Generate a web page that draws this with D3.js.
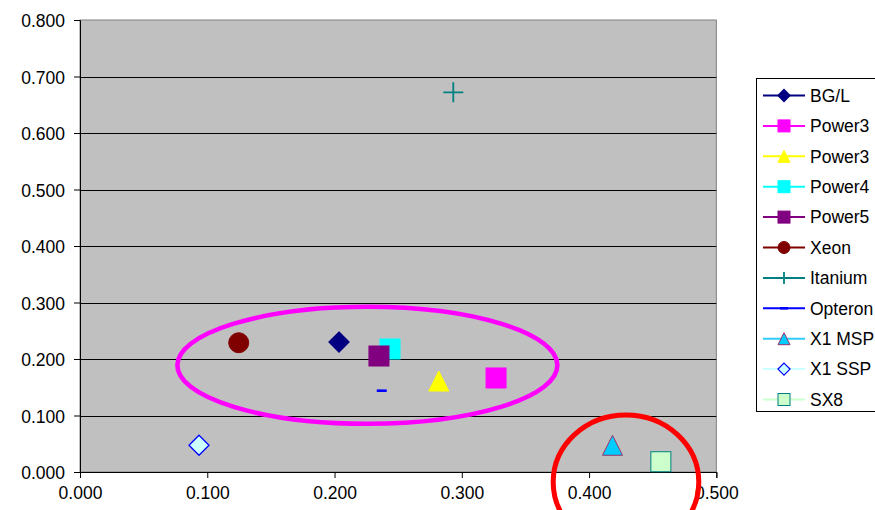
<!DOCTYPE html>
<html>
<head>
<meta charset="utf-8">
<script src="https://cdn.jsdelivr.net/npm/d3@7"></script>
<style>
html,body{margin:0;padding:0;background:#fff;}
svg{display:block;font-family:"Liberation Sans",Arial,sans-serif;}
</style>
</head>
<body>
<svg id="chart" width="875" height="510"></svg>
<script>
// ---- data ----
const seriesNames = ["BG/L","Power3","Power3","Power4","Power5","Xeon","Itanium","Opteron","X1 MSP","X1 SSP","SX8"];
const xValues = [0.2035,0.3269,0.2819,0.2436,0.2349,0.1247,0.2933,0.2371,0.4184,0.0935,0.4564];
const yValues = [0.230,0.1664,0.161,0.2177,0.2053,0.2288,0.672,0.1439,0.0473,0.0473,0.0182];
const markerShapes = ["diamond","square","triangle","square","square","circle","plus","dash","triangle","diamond","square"];
const fillColors = ["#000080","#FF00FF","#FFFF00","#00FFFF","#800080","#800000","none","#0000FF","#00CCFF","#CCFFFF","#CCFFCC"];
const strokeColors = ["#000080","#FF00FF","#FFFF00","#00FFFF","#800080","#800000","#008080","#0000FF","#993366","#0000FF","#008080"];
const lineColors = ["#000080","#FF00FF","#FFFF00","#00FFFF","#800080","#800000","#008080","#0000FF","#33CCFF","#CCFFFF","#CCFFCC"];
const xTicks = [0,0.1,0.2,0.3,0.4,0.5];
const yTicks = [0,0.1,0.2,0.3,0.4,0.5,0.6,0.7,0.8];
// annotation ellipses (data units: cx, cy, rx, ry)
const ellipseCx = [0.2258,0.4290];
const ellipseCy = [0.1889,-0.0177];
const ellipseRx = [0.1493,0.0572];
const ellipseRy = [0.1035,0.1186];
const ellipseColors = ["#FF00FF","#FF0000"];

// ---- layout ----
const svg = d3.select("#chart");
const L = 80, R = 716.35, T = 20, B = 472;
const x = d3.scaleLinear().domain([0,0.5]).range([L,R]);
const y = d3.scaleLinear().domain([0,0.8]).range([B,T]);

svg.append("rect").attr("x",L).attr("y",T).attr("width",R-L).attr("height",B-T)
  .attr("fill","#C0C0C0").attr("stroke","#808080").attr("stroke-width",1);

// gridlines
svg.append("g").selectAll("line").data(yTicks.slice(1,-1)).join("line")
  .attr("x1",L).attr("x2",R).attr("y1",d=>Math.round(y(d))+0.5).attr("y2",d=>Math.round(y(d))+0.5)
  .attr("stroke","#000").attr("stroke-width",1);

const fmt = d3.format(".3f");
const yAxis = svg.append("g").attr("transform",`translate(${L},0)`)
  .call(d3.axisLeft(y).tickValues(yTicks).tickFormat(fmt).tickSize(6).tickPadding(9));
const xAxis = svg.append("g").attr("transform",`translate(0,${B})`)
  .call(d3.axisBottom(x).tickValues(xTicks).tickFormat(fmt).tickSize(6).tickPadding(9));
[yAxis,xAxis].forEach(a=>{
  a.selectAll(".domain").attr("stroke","#000");
  a.selectAll(".tick line").attr("stroke","#000");
  a.selectAll("text").attr("fill","#000").style("font-size","17.5px").style("font-family","'Liberation Sans',Arial,sans-serif");
});
yAxis.selectAll("text").attr("dy","0.38em");

// marker drawing
function drawMarker(g, shape, fill, stroke, s){
  const h = s/2;
  if(shape==="square"){
    g.append("rect").attr("x",-h).attr("y",-h).attr("width",s).attr("height",s)
      .attr("fill",fill).attr("stroke",stroke).attr("stroke-width",1);
  } else if(shape==="diamond"){
    const d = h*1.0;
    g.append("path").attr("d",`M0,${-d}L${d},0L0,${d}L${-d},0Z`)
      .attr("fill",fill).attr("stroke",stroke).attr("stroke-width",1.3);
  } else if(shape==="triangle"){
    g.append("path").attr("d",`M0,${-h}L${h},${h}L${-h},${h}Z`)
      .attr("fill",fill).attr("stroke",stroke).attr("stroke-width",1);
  } else if(shape==="circle"){
    g.append("circle").attr("r",h).attr("fill",fill).attr("stroke",stroke).attr("stroke-width",1);
  } else if(shape==="plus"){
    g.append("path").attr("d",`M${-h},0H${h}M0,${-h}V${h}`)
      .attr("fill","none").attr("stroke",stroke).attr("stroke-width",1.8);
  } else if(shape==="dash"){
    g.append("rect").attr("x",-s*0.25).attr("y",-1.3).attr("width",s*0.5).attr("height",2.6)
      .attr("fill",fill);
  }
}

const pts = seriesNames.map((n,i)=>({n,i,x:xValues[i],y:yValues[i]}));
const pg = svg.append("g");
pts.forEach(p=>{
  const g = pg.append("g").attr("transform",`translate(${x(p.x)},${y(p.y)})`);
  drawMarker(g, markerShapes[p.i], fillColors[p.i], strokeColors[p.i], 20);
});

// legend
const lg = svg.append("g");
lg.append("rect").attr("x",756.5).attr("y",78.5).attr("width",140).attr("height",333)
  .attr("fill","#fff").attr("stroke","#000").attr("stroke-width",1);
seriesNames.forEach((n,i)=>{
  const yy = 95.5 + i*30.4;
  lg.append("line").attr("x1",763).attr("x2",805).attr("y1",yy).attr("y2",yy)
    .attr("stroke",lineColors[i]).attr("stroke-width",2);
  const g = lg.append("g").attr("transform",`translate(784,${yy})`);
  drawMarker(g, markerShapes[i], fillColors[i], strokeColors[i], markerShapes[i]==="dash"?16:12);
  lg.append("text").attr("x",810).attr("y",yy).attr("dy","0.36em")
    .style("font-size","17.5px").attr("fill","#000").text(n);
});

// annotation ellipses
const eg = svg.append("g");
ellipseCx.forEach((cx,i)=>{
  eg.append("ellipse").attr("cx",x(cx)).attr("cy",y(ellipseCy[i]))
    .attr("rx",x(ellipseRx[i])-x(0)).attr("ry",y(0)-y(ellipseRy[i]))
    .attr("fill","none").attr("stroke",ellipseColors[i]).attr("stroke-width",i===0?4.6:5);
});
</script>
</body>
</html>
